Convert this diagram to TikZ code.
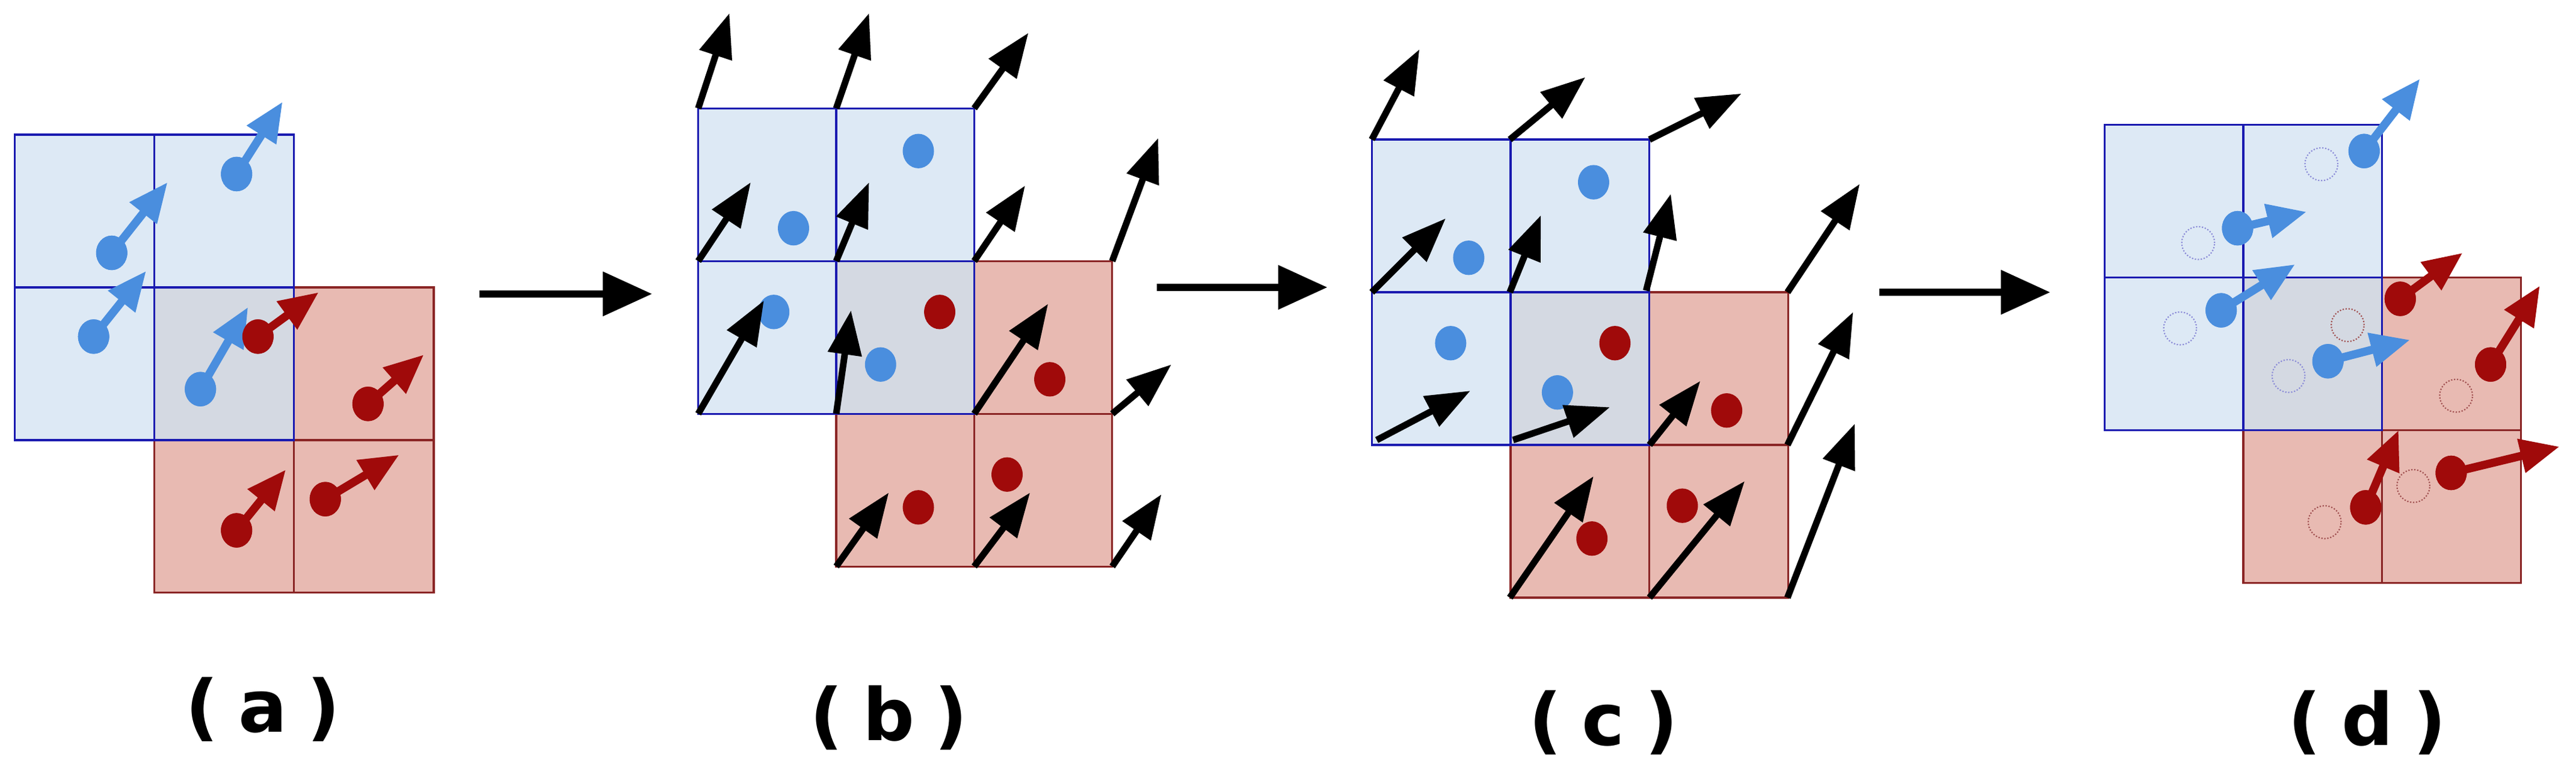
\documentclass[tikz,border=0pt]{standalone}
\usepackage{fontspec}
\setmainfont{DejaVu Sans}
\usetikzlibrary{arrows.meta,shapes.geometric}
\definecolor{bfill}{HTML}{DDE9F5}
\definecolor{rfill}{HTML}{E8BAB2}
\definecolor{ofill}{HTML}{D4D9E2}
\definecolor{bline}{HTML}{1A1AB0}
\definecolor{rline}{HTML}{8A2525}
\definecolor{bdotc}{HTML}{4A8EDE}
\definecolor{rdotc}{HTML}{A00A0A}
\newcommand\mypanel[3]{% x0 y0 cell-width ; cell height 93
  \fill[rfill] (#1+#3,#2+93) rectangle (#1+3*#3,#2+279);
  \fill[bfill] (#1,#2) rectangle (#1+2*#3,#2+186);
  \fill[ofill] (#1+#3,#2+93) rectangle (#1+2*#3,#2+186);
  \draw[rline,line width=1.2pt] (#1+#3,#2+93) rectangle (#1+3*#3,#2+279)
     (#1+2*#3,#2+186) -- (#1+3*#3,#2+186) (#1+2*#3,#2+186) -- (#1+2*#3,#2+279) (#1+#3,#2+186)--(#1+2*#3,#2+186);
  \draw[bline,line width=1.2pt] (#1,#2) rectangle (#1+2*#3,#2+186)
     (#1+#3,#2) -- (#1+#3,#2+186) (#1,#2+93) -- (#1+2*#3,#2+93);
}
\tikzset{
  x=1pt,y=-1pt,
  bdot/.style={ellipse,fill=bdotc,minimum width=19pt,minimum height=21pt,inner sep=0pt},
  rdot/.style={ellipse,fill=rdotc,minimum width=19pt,minimum height=21pt,inner sep=0pt},
  bhol/.style={circle,draw=bline!50,densely dotted,line width=0.8pt,minimum size=20pt,inner sep=0pt},
  rhol/.style={circle,draw=rline!80,densely dotted,line width=0.8pt,minimum size=20pt,inner sep=0pt},
  barr/.style={bdotc,line width=5pt,-{Triangle[length=24pt,width=20pt]}},
  rarr/.style={rdotc,line width=5pt,-{Triangle[length=24pt,width=20pt]}},
  karr/.style={black,line width=4pt,-{Triangle[length=27pt,width=20pt]}},
  stage/.style={black,line width=4.5pt,-{Triangle[length=30pt,width=26pt]}},
  lab/.style={font=\bfseries\fontsize{44}{50}\selectfont}
}
\begin{document}
\begin{tikzpicture}
\useasboundingbox (0,0) rectangle (1568,468);
% ---------- (a)
\mypanel{9}{82}{85}
\node[bdot] (a1) at (144,106) {}; \coordinate (at1) at (172,62);
\node[bdot] (a2) at (68,154) {};  \coordinate (at2) at (102,111);
\node[bdot] (a3) at (57,205) {};  \coordinate (at3) at (89,165);
\node[bdot] (a4) at (122,237) {}; \coordinate (at4) at (151,187);
\node[rdot] (a5) at (157,205) {}; \coordinate (at5) at (194,178);
\node[rdot] (a6) at (224,246) {}; \coordinate (at6) at (258,216);
\node[rdot] (a7) at (144,323) {}; \coordinate (at7) at (174,286);
\node[rdot] (a8) at (198,304) {}; \coordinate (at8) at (243,277);
\foreach \i in {1,2,3,4} \draw[barr] (a\i.center) -- (at\i);
\foreach \i in {5,6,7,8} \draw[rarr] (a\i.center) -- (at\i);
\foreach \i in {1,...,8} \fill[\ifnum\i<5 bdotc\else rdotc\fi] (a\i) ellipse (9.5pt and 10.5pt);
\coordinate (s1a) at (292,179); \coordinate (s1b) at (397,179);
\draw[stage] (s1a) -- (s1b);
% ---------- (b)
\mypanel{425}{66}{84}
\node[bdot] (b1) at (559,92) {};
\node[bdot] (b2) at (483,139) {};
\node[bdot] (b3) at (471,190) {};
\node[bdot] (b4) at (536,222) {};
\node[rdot] (b5) at (572,190) {};
\node[rdot] (b6) at (639,231) {};
\node[rdot] (b7) at (613,289) {};
\node[rdot] (b8) at (559,309) {};
\foreach \n/\sx/\sy/\tx/\ty in {1/425/66/444/8, 2/509/66/529/8, 3/593/66/626/20,
  4/425/159/457/111, 5/509/159/529/111, 6/593/159/624/113, 7/677/159/705/84,
  8/425/252/465/183, 9/509/252/518/189, 10/593/252/638/185, 11/677/252/713/222,
  12/509/345/541/300, 13/593/345/627/300, 14/677/345/707/301}
  {\coordinate (bs\n) at (\sx,\sy); \coordinate (bt\n) at (\tx,\ty); \draw[karr] (bs\n) -- (bt\n);}
\coordinate (s2a) at (704,175); \coordinate (s2b) at (808,175);
\draw[stage] (s2a) -- (s2b);
% ---------- (c)
\mypanel{835}{85}{84.5}
\node[bdot] (c1) at (970,111) {};
\node[bdot] (c2) at (894,157) {};
\node[bdot] (c3) at (883,209) {};
\node[bdot] (c4) at (948,239) {};
\node[rdot] (c5) at (983,209) {};
\node[rdot] (c6) at (1051,250) {};
\node[rdot] (c7) at (1024,308) {};
\node[rdot] (c8) at (969,328) {};
\foreach \n/\sx/\sy/\tx/\ty in {1/835/85/864/30, 2/919/85/965/47, 3/1004/85/1060/57,
  4/835/178/880/133, 5/919/178/938/131, 6/1002/177/1017/118, 7/1088/178/1132/112,
  8/838/268/895/238, 9/921/268/980/248, 10/1004/271/1035/232, 11/1088/271/1128/190,
  12/919/364/970/290, 13/1004/364/1062/293, 14/1088/364/1129/258}
  {\coordinate (cs\n) at (\sx,\sy); \coordinate (ct\n) at (\tx,\ty); \draw[karr] (cs\n) -- (ct\n);}
\coordinate (s3a) at (1144,178); \coordinate (s3b) at (1248,178);
\draw[stage] (s3a) -- (s3b);
% ---------- (d)
\mypanel{1281}{76}{84.5}
\node[bhol] (dh1) at (1413,100) {};
\node[bhol] (dh2) at (1338,148) {};
\node[bhol] (dh3) at (1327,200) {};
\node[bhol] (dh4) at (1393,229) {};
\node[rhol] (dh5) at (1429,198) {};
\node[rhol] (dh6) at (1495,241) {};
\node[rhol] (dh7) at (1415,318) {};
\node[rhol] (dh8) at (1469,296) {};
\node[bdot] (d1) at (1439,92) {};  \coordinate (dt1) at (1473,48);
\node[bdot] (d2) at (1362,139) {}; \coordinate (dt2) at (1404,129);
\node[bdot] (d3) at (1352,189) {}; \coordinate (dt3) at (1397,161);
\node[bdot] (d4) at (1417,220) {}; \coordinate (dt4) at (1467,207);
\node[rdot] (d5) at (1461,182) {}; \coordinate (dt5) at (1499,154);
\node[rdot] (d6) at (1516,222) {}; \coordinate (dt6) at (1546,174);
\node[rdot] (d7) at (1440,309) {}; \coordinate (dt7) at (1460,262);
\node[rdot] (d8) at (1492,288) {}; \coordinate (dt8) at (1558,272);
\foreach \i in {1,2,3,4} \draw[barr] (d\i.center) -- (dt\i);
\foreach \i in {5,6,7,8} \draw[rarr] (d\i.center) -- (dt\i);
\foreach \i in {1,...,8} \fill[\ifnum\i<5 bdotc\else rdotc\fi] (d\i) ellipse (9.5pt and 10.5pt);
% ---------- labels
\node[lab] (la) at (160,432) {(\;a\;)};
\node[lab] (lb) at (541,437) {(\;b\;)};
\node[lab] (lc) at (976,440) {(\;c\;)};
\node[lab] (ld) at (1441,440) {(\;d\;)};
\end{tikzpicture}
\end{document}
